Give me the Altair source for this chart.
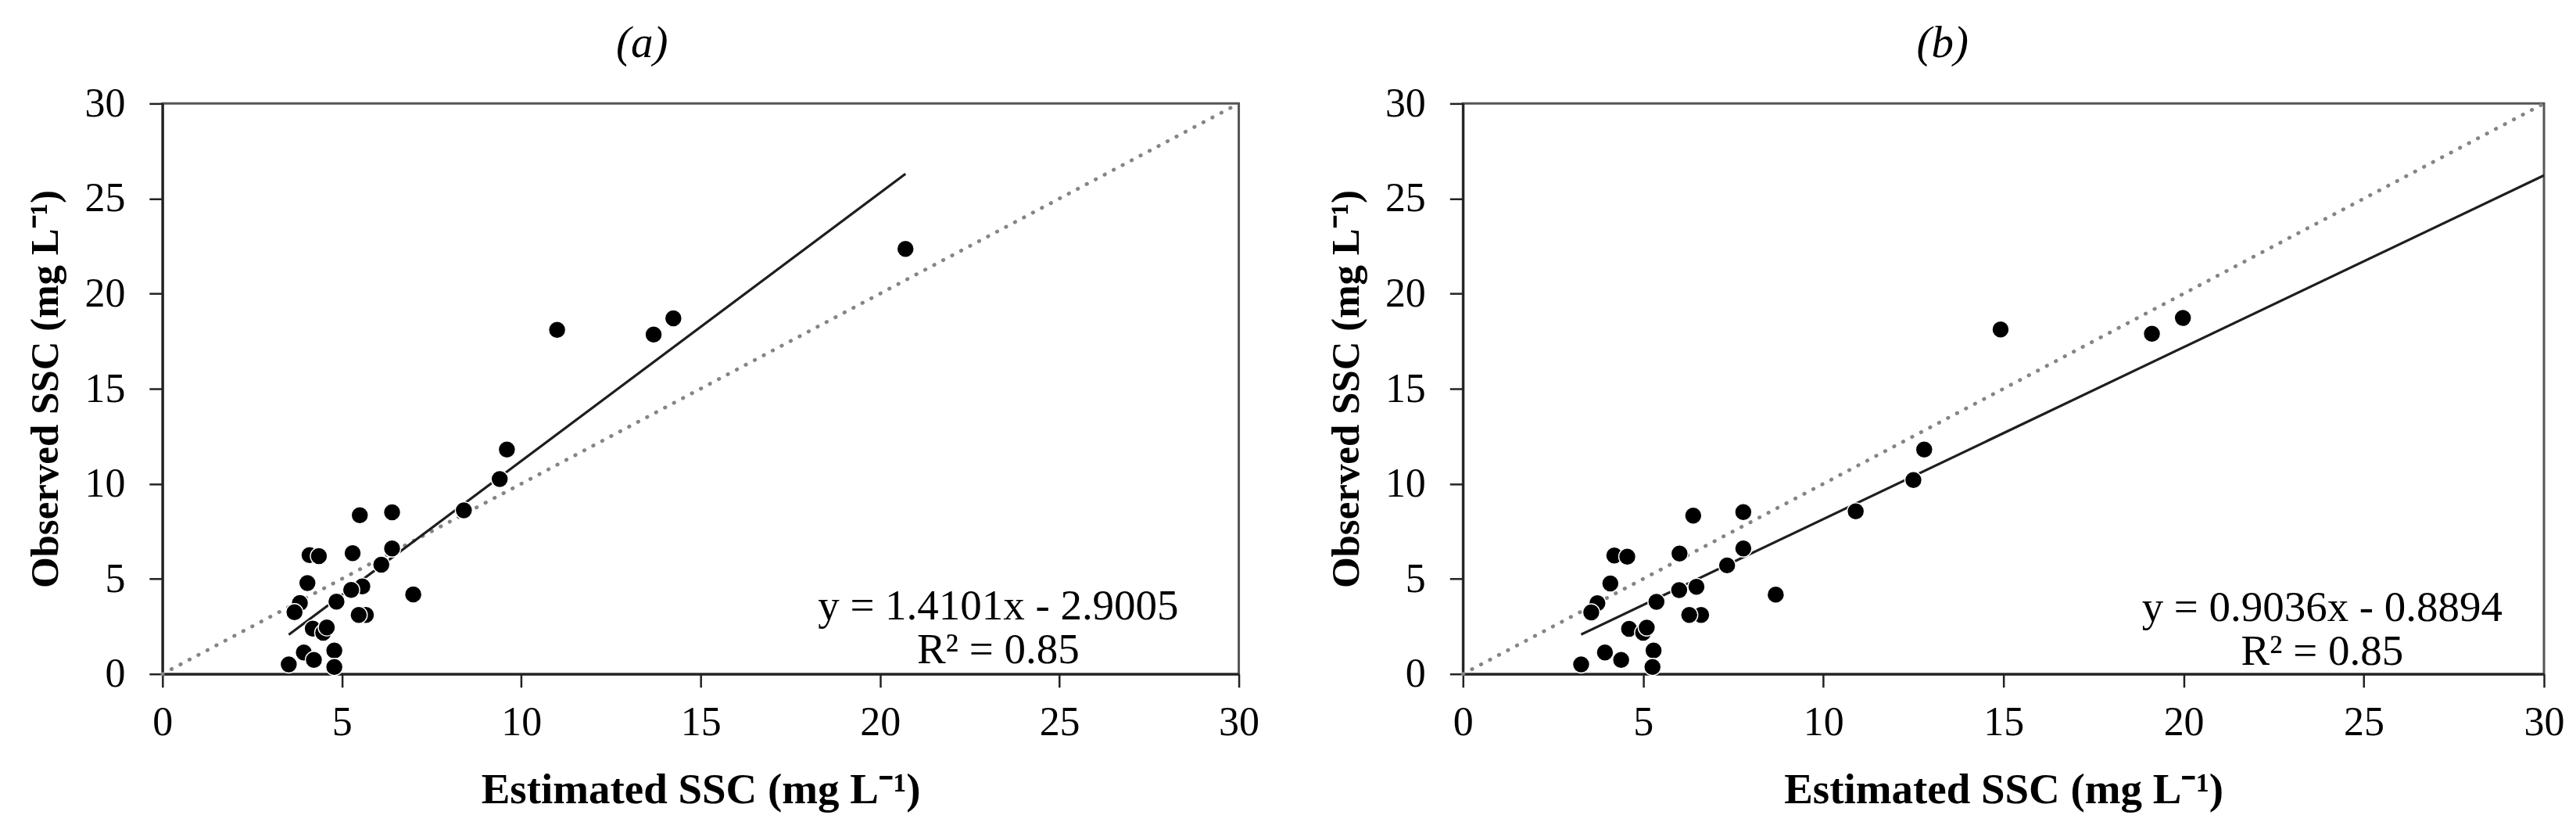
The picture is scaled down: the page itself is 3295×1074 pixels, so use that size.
import altair as alt
import pandas as pd

# ---- data ----
est_a = [9.6, 9.4, 8.4, 5.5, 6.4, 6.4, 6.1, 5.3, 4.1, 4.36, 4.04, 5.57, 5.26, 6.99,
         4.85, 3.83, 3.68, 5.67, 5.47, 4.19, 4.48, 4.58, 4.79, 3.94, 4.22, 3.52, 4.79,
         11.0, 13.69, 14.24, 20.71]
obs_a = [11.8, 10.25, 8.6, 8.35, 8.5, 6.6, 5.75, 6.35, 6.25, 6.2, 4.78, 4.6, 4.42, 4.18,
         3.8, 3.73, 3.25, 3.1, 3.1, 2.38, 2.17, 2.45, 1.23, 1.13, 0.74, 0.5, 0.37,
         18.1, 17.85, 18.7, 22.35]

est_b = [12.8, 12.5, 10.9, 6.39, 7.78, 7.78, 7.33, 6.01, 4.2, 4.56, 4.09, 6.48, 6.0, 8.68,
         5.37, 3.73, 3.56, 6.61, 6.28, 4.61, 5.0, 5.1, 5.29, 3.94, 4.39, 3.28, 5.26,
         14.92, 19.12, 19.98]
obs_b = [11.8, 10.2, 8.55, 8.33, 8.51, 6.6, 5.71, 6.33, 6.23, 6.17, 4.76, 4.58, 4.41, 4.17,
         3.79, 3.72, 3.24, 3.1, 3.1, 2.37, 2.17, 2.44, 1.23, 1.13, 0.74, 0.5, 0.37,
         18.12, 17.89, 18.72]

# fitted lines as printed on the chart
slope_a, icpt_a = 1.4101, -2.9005
slope_b, icpt_b = 0.9036, -0.8894
trend_x_a = [3.52, 20.71]
trend_x_b = [3.28, 30.0]
one_to_one = [0, 30]

eq_a = ["y = 1.4101x - 2.9005", "R² = 0.85"]
eq_b = ["y = 0.9036x - 0.8894", "R² = 0.85"]
titles = ["(a)", "(b)"]
ticks = [0, 5, 10, 15, 20, 25, 30]

FONT = "Liberation Serif"
H = 730


def panel(est, obs, tx, slope, icpt, eq, title, eq_x, eq_y1, eq_y2, width):
    pts = pd.DataFrame({"est": est, "obs": obs})
    trend = pd.DataFrame({"est": tx, "obs": [slope * v + icpt for v in tx]})
    diag = pd.DataFrame({"est": one_to_one, "obs": one_to_one})

    xs = alt.X("est:Q", scale=alt.Scale(domain=[0, 30], nice=False),
               axis=alt.Axis(values=ticks, title="Estimated SSC (mg L⁻¹)", labelFlush=False))
    ys = alt.Y("obs:Q", scale=alt.Scale(domain=[0, 30], nice=False),
               axis=alt.Axis(values=ticks, title="Observed SSC (mg L⁻¹)", labelFlush=False))

    dline = alt.Chart(diag).mark_line(color="#858585", strokeWidth=4.8,
                                      strokeDash=[0.5, 12.5], strokeCap="round").encode(x=xs, y=ys)
    tline = alt.Chart(trend).mark_line(color="#1e1e1e", strokeWidth=3.2, clip=True).encode(x=xs, y=ys)
    dots = alt.Chart(pts).mark_circle(size=480, fill="black", stroke="white",
                                      strokeWidth=1.4, opacity=1).encode(x=xs, y=ys)
    t1 = alt.Chart(alt.Data(values=[{"t": eq[0]}])).mark_text(
        font=FONT, fontSize=55, align="center", baseline="alphabetic", color="black"
    ).encode(x=alt.value(eq_x), y=alt.value(eq_y1), text="t:N")
    t2 = alt.Chart(alt.Data(values=[{"t": eq[1]}])).mark_text(
        font=FONT, fontSize=55, align="center", baseline="alphabetic", color="black"
    ).encode(x=alt.value(eq_x), y=alt.value(eq_y2), text="t:N")
    ttl = alt.Chart(alt.Data(values=[{"t": title}])).mark_text(
        font=FONT, fontSize=57, fontStyle="italic", align="center", baseline="alphabetic",
        color="black"
    ).encode(x=alt.value(614), y=alt.value(-59), text="t:N")
    return alt.layer(dline, tline, dots, t1, t2, ttl).properties(width=width, height=H)


pa = panel(est_a, obs_a, trend_x_a, slope_a, icpt_a, eq_a, titles[0], 1070, 660, 716, 1378)
pb = panel(est_b, obs_b, trend_x_b, slope_b, icpt_b, eq_b, titles[1], 1100, 662, 718, 1384)

chart = alt.hconcat(pa, pb, spacing=82).properties(
    padding={"left": 23, "top": 17, "right": 5, "bottom": 5}
).configure(
    background="white"
).configure_view(
    stroke="#555555", strokeWidth=3
).configure_axis(
    grid=False, domainColor="#222222", domainWidth=3, tickColor="#222222", tickWidth=2.5,
    tickSize=17, labelFont=FONT, labelFontSize=52, labelColor="black",
    titleFont=FONT, titleFontWeight="bold", titleColor="black"
).configure_axisX(
    labelPadding=20, titlePadding=34, titleFontSize=55
).configure_axisY(
    labelPadding=31, titlePadding=23, titleFontSize=51
)

chart.save("out.html", embed_options={"renderer": "svg", "actions": False})
